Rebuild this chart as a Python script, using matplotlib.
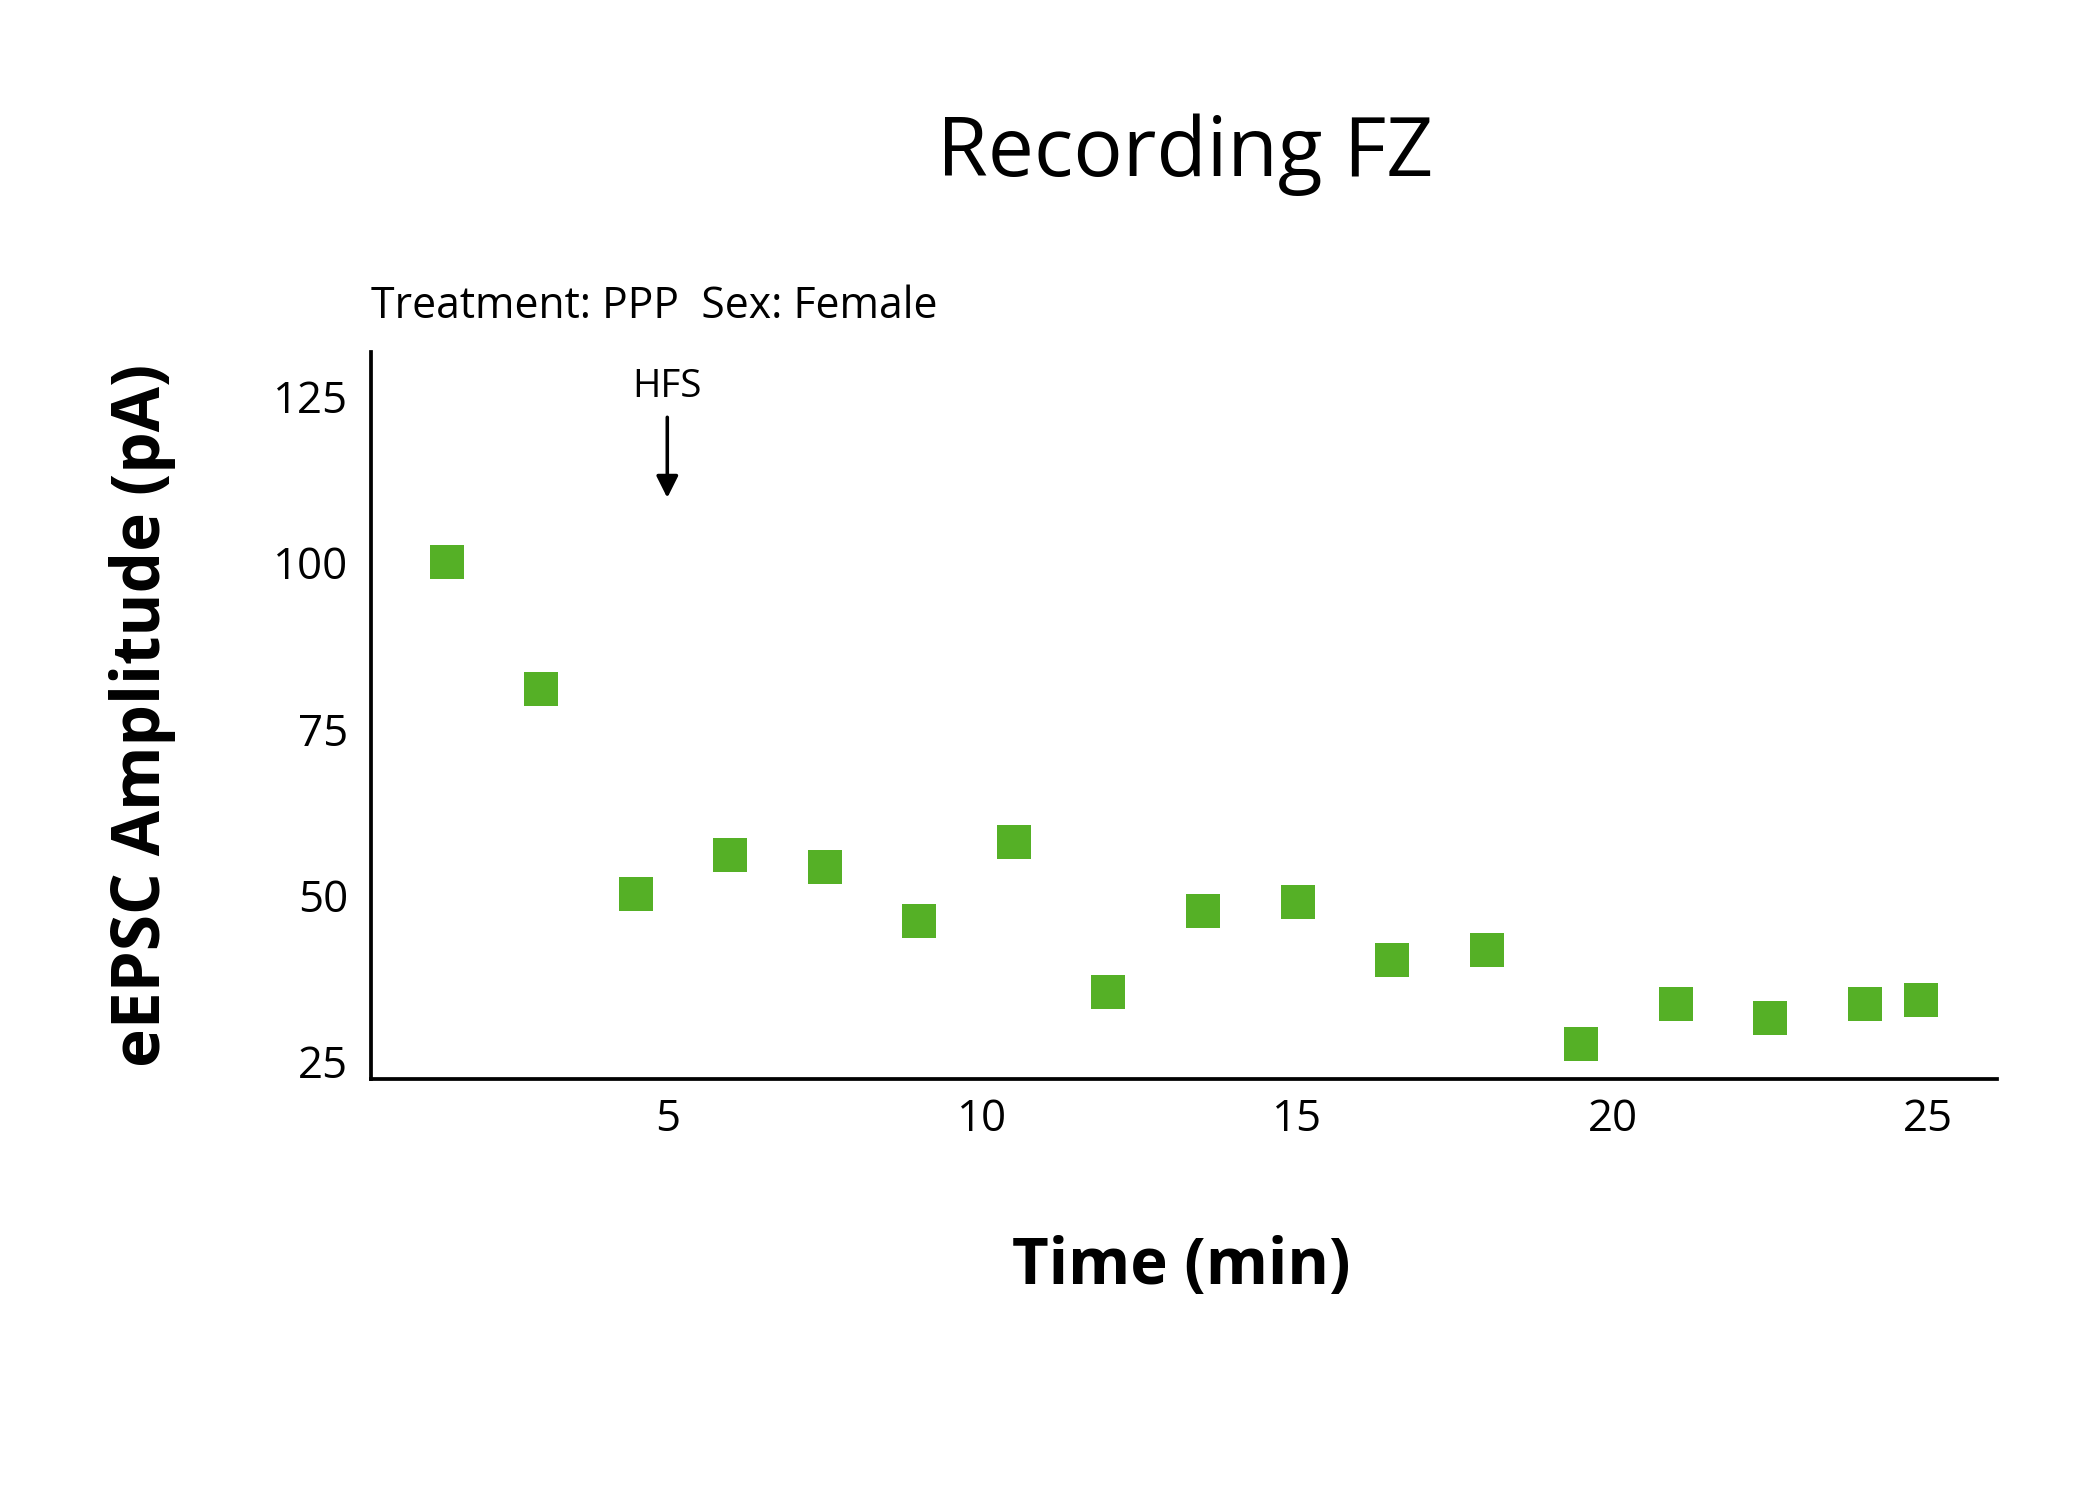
import matplotlib
matplotlib.use("Agg")
import matplotlib.pyplot as plt

# values
time_min = [1.5, 3, 4.5, 6, 7.5, 9, 10.5, 12, 13.5, 15, 16.5, 18, 19.5, 21, 22.5, 24, 24.9]
amplitude_pa = [100.0, 81.0, 50.2, 56.0, 54.3, 46.1, 58.0, 35.4, 47.7, 49.0,
                40.3, 41.8, 27.6, 33.7, 31.5, 33.6, 34.2]
x_ticks = [5, 10, 15, 20, 25]
y_ticks = [25, 50, 75, 100, 125]
hfs_time = 5

plt.rcParams['font.family'] = ['Open Sans', 'DejaVu Sans']

fig = plt.figure(figsize=(14, 10), dpi=150)
ax = fig.add_axes([0.1767, 0.2807, 0.951 - 0.1767, 0.7653 - 0.2807])

ax.plot(time_min, amplitude_pa, 's', color='#55B026', markersize=16.5,
        markeredgewidth=0, linestyle='none')

ax.set_xlim(0.3, 26.1)
ax.set_ylim(22.4, 131.6)
ax.set_xticks(x_ticks)
ax.set_yticks(y_ticks)
ax.tick_params(length=0, labelsize=21)
ax.tick_params(axis='y', pad=11)
ax.tick_params(axis='x', pad=9)

for side in ['top', 'right']:
    ax.spines[side].set_visible(False)
for side in ['left', 'bottom']:
    ax.spines[side].set_linewidth(1.8)

# HFS marker
ax.annotate('', xy=(hfs_time, 109.7), xytext=(hfs_time, 121.8),
            arrowprops=dict(arrowstyle='-|>', color='black', lw=1.7,
                            mutation_scale=22, shrinkA=0, shrinkB=0))
ax.text(hfs_time, 126.3, 'HFS', ha='center', va='center', fontsize=18.5)

fig.text(0.5645, 0.883, 'Recording FZ', ha='center', va='baseline', fontsize=39.5)
fig.text(0.1765, 0.788, 'Treatment: PPP  Sex: Female', ha='left', va='baseline', fontsize=20.5)
fig.text(0.5625, 0.144, 'Time (min)', ha='center', va='baseline', fontsize=30.5,
         fontweight='bold')
fig.text(0.068, 0.523, 'eEPSC Amplitude (pA)', ha='center', va='center', fontsize=31.5,
         fontweight='bold', rotation=90)

fig.savefig('out.png', dpi=150, facecolor='white')
